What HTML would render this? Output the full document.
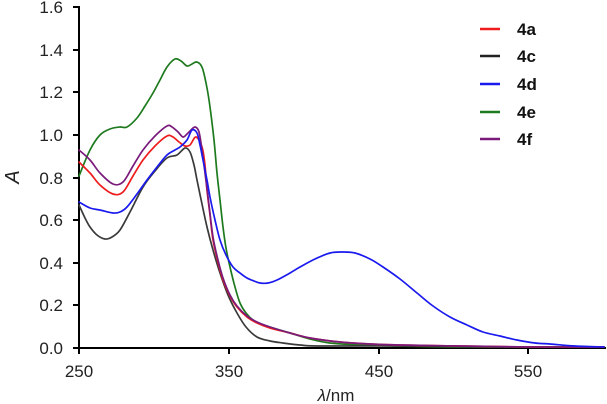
<!DOCTYPE html>
<html><head><meta charset="utf-8"><style>
html,body{margin:0;padding:0;background:#fff;}
svg{display:block;font-family:"Liberation Sans",Arial,sans-serif;}
</style></head><body>
<svg id="s" width="607" height="404" viewBox="0 0 607 404" xmlns="http://www.w3.org/2000/svg">
<g stroke="#000" stroke-width="2" fill="none">
<line x1="79" y1="6" x2="79" y2="349"/>
<line x1="78" y1="348" x2="606" y2="348"/>
<line x1="73" y1="7" x2="79" y2="7"/>
<line x1="73" y1="50" x2="79" y2="50"/>
<line x1="73" y1="92" x2="79" y2="92"/>
<line x1="73" y1="135" x2="79" y2="135"/>
<line x1="73" y1="178" x2="79" y2="178"/>
<line x1="73" y1="220" x2="79" y2="220"/>
<line x1="73" y1="263" x2="79" y2="263"/>
<line x1="73" y1="305" x2="79" y2="305"/>
<line x1="73" y1="348" x2="79" y2="348"/>
<line x1="79" y1="348" x2="79" y2="354"/>
<line x1="229" y1="348" x2="229" y2="354"/>
<line x1="379" y1="348" x2="379" y2="354"/>
<line x1="528" y1="348" x2="528" y2="354"/>
</g>
<g font-size="17" fill="#222" text-anchor="end">
<text x="63" y="13">1.6</text>
<text x="63" y="56">1.4</text>
<text x="63" y="98">1.2</text>
<text x="63" y="141">1.0</text>
<text x="63" y="184">0.8</text>
<text x="63" y="226">0.6</text>
<text x="63" y="269">0.4</text>
<text x="63" y="311">0.2</text>
<text x="63" y="354">0.0</text>
</g>
<g font-size="17" fill="#222" text-anchor="middle">
<text x="79" y="377">250</text>
<text x="229" y="377">350</text>
<text x="379" y="377">450</text>
<text x="528" y="377">550</text>
<text x="336" y="401"><tspan font-style="italic">λ</tspan>/nm</text>
</g>
<text x="0" y="0" font-size="20" font-style="italic" fill="#222" text-anchor="middle" transform="translate(19,177) rotate(-90)">A</text>
<g id="curves" fill="none" stroke-width="1.7" stroke-linejoin="round" stroke-linecap="round">
<polyline stroke="#1e7a1e" points="79,176 90,150 100,135 110,129 120,127 127,127 137,118 145,106 153,93 160,80 167,67 175,59 181,61 187,66 192,64 196,62 200,64 203,70 207,88 210,107 214,140 217,173 220,200 223,227 226,248 230,267 235,287 240,303 246,313 253,320 261,324 270,327 290,333 310,339 330,343 360,345 400,346 450,347 528,347 604,347"/>
<polyline stroke="#3a3a3a" points="79,205 85,218 90,227 97,235 105,239 112,237 120,230 130,212 143,187 155,171 167,158 177,155 185,148 190,152 194,165 197,180 202,204 207,227 213,250 220,273 228,295 237,313 246,327 257,337 270,341 283,343 300,345 320,346 400,346 500,347 604,347"/>
<polyline stroke="#ee1c1c" points="79,162 90,173 100,185 113,194 123,192 133,176 143,160 155,146 167,136 173,137 179,142 185,146 190,145 196,137 202,147 205,165 207,190 210,215 213,240 218,262 223,280 230,296 237,307 247,317 257,323 270,328 290,333 310,338 340,342 370,344 400,345 460,346 528,347 604,347"/>
<polyline stroke="#7a1a7a" points="79,150 90,160 100,173 113,184 123,182 133,166 143,150 155,136 167,126 172,127 178,132 183,137 187,134 190,131 195,127 199,132 202,150 205,173 209,205 213,237 218,260 223,278 230,295 237,306 247,316 257,322 270,327 290,333 310,338 340,342 370,344 400,345 460,346 528,347 604,347"/>
<polyline stroke="#1a1aee" points="79,202 90,208 100,210 113,213 120,212 127,207 137,194 147,180 157,167 167,155 175,150 180,147 187,140 192,130 197,133 200,145 203,160 207,180 210,197 215,220 220,240 226,255 233,267 240,273 247,278 254,281 260,283 268,283 277,280 290,273 300,267 315,259 330,253 342,252 355,253 370,259 383,267 400,279 417,293 433,306 450,317 467,325 483,332 500,336 517,340 535,343 550,344 575,346 604,347"/>
</g>
<g stroke-width="2.5">
<line x1="480" y1="29" x2="500" y2="29" stroke="#ee1c1c"/>
<line x1="480" y1="56" x2="500" y2="56" stroke="#222"/>
<line x1="480" y1="84" x2="500" y2="84" stroke="#1a1aee"/>
<line x1="480" y1="112" x2="500" y2="112" stroke="#1e7a1e"/>
<line x1="480" y1="139" x2="500" y2="139" stroke="#7a1a7a"/>
</g>
<g font-size="17" font-weight="bold" fill="#111">
<text x="517" y="35">4a</text>
<text x="517" y="62">4c</text>
<text x="517" y="90">4d</text>
<text x="517" y="118">4e</text>
<text x="517" y="145">4f</text>
</g>
</svg>
<script>
(function(){
var ns="http://www.w3.org/2000/svg";
var pls=document.querySelectorAll("#curves polyline");
for(var k=0;k<pls.length;k++){
 var pl=pls[k];
 var pts=pl.getAttribute("points").trim().split(/\s+/).map(function(s){var a=s.split(",");return [+a[0],+a[1]];});
 var d="M"+pts[0][0]+","+pts[0][1];
 for(var i=0;i<pts.length-1;i++){
  var p0=pts[i-1]||pts[i],p1=pts[i],p2=pts[i+1],p3=pts[i+2]||p2;
  var c1x=p1[0]+(p2[0]-p0[0])/6,c1y=p1[1]+(p2[1]-p0[1])/6;
  var c2x=p2[0]-(p3[0]-p1[0])/6,c2y=p2[1]-(p3[1]-p1[1])/6;
  d+=" C"+c1x.toFixed(2)+","+c1y.toFixed(2)+" "+c2x.toFixed(2)+","+c2y.toFixed(2)+" "+p2[0]+","+p2[1];
 }
 var p=document.createElementNS(ns,"path");
 p.setAttribute("d",d);
 p.setAttribute("stroke",pl.getAttribute("stroke"));
 pl.parentNode.replaceChild(p,pl);
}
})();
</script>
</body></html>
